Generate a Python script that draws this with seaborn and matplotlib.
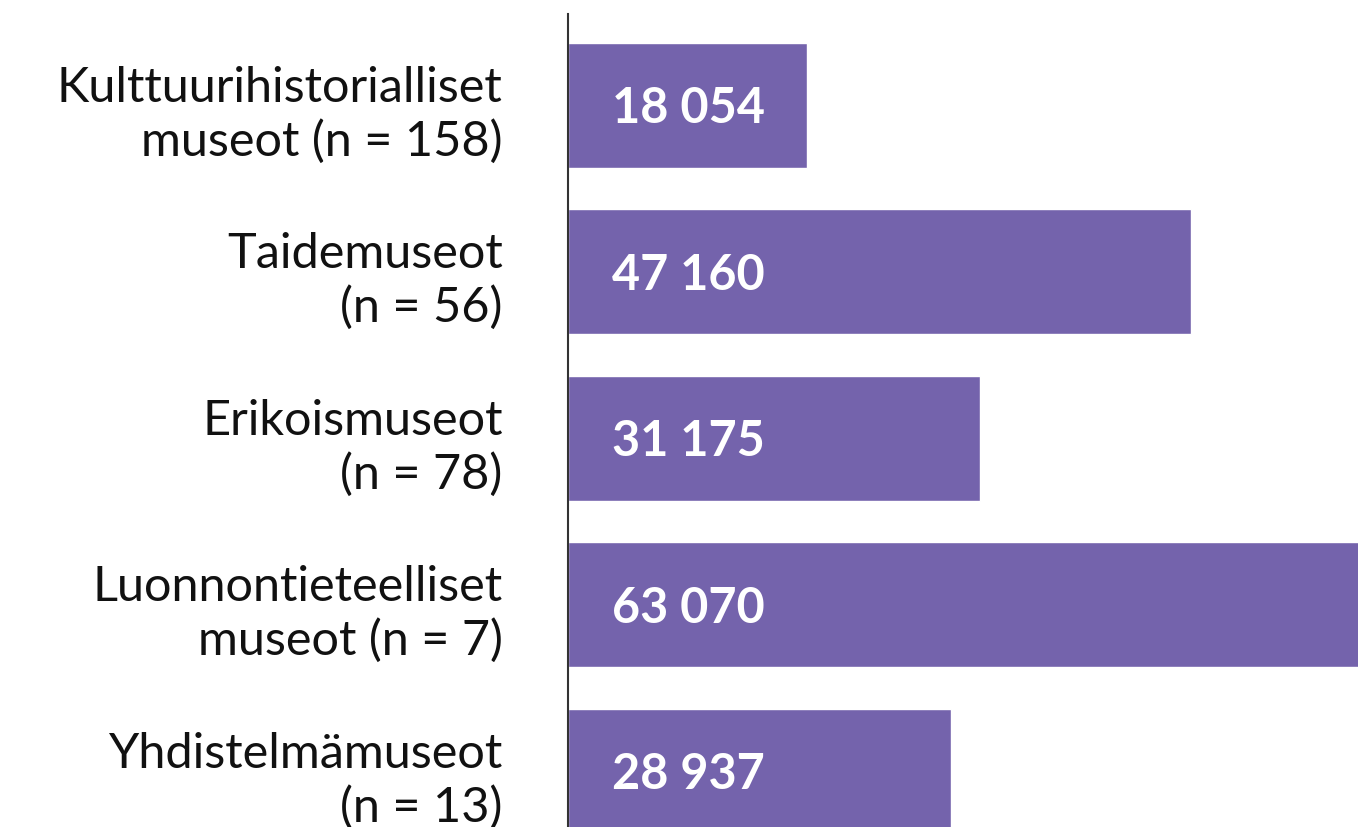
import matplotlib
matplotlib.use("Agg")
import matplotlib.pyplot as plt
import seaborn as sns
import pandas as pd

# data
categories = [
    "Kulttuurihistorialliset\nmuseot (n = 158)",
    "Taidemuseot\n(n = 56)",
    "Erikoismuseot\n(n = 78)",
    "Luonnontieteelliset\nmuseot (n = 7)",
    "Yhdistelmämuseot\n(n = 13)",
]
values = [18054, 47160, 31175, 63070, 28937]
value_labels = ["18 054", "47 160", "31 175", "63 070", "28 937"]

df = pd.DataFrame({"kategoria": categories, "arvo": values})

sns.set_theme(style="white")
plt.rcParams["font.family"] = ["Lato", "DejaVu Sans"]

fig = plt.figure(figsize=(13.58, 8.28), dpi=100)
ax = fig.add_axes([568 / 1358, 0.0, 1 - 568 / 1358, 1 - 15 / 828])

sns.barplot(data=df, x="arvo", y="kategoria", color="#7463AC", saturation=1,
            width=0.75, ax=ax)

for i, lab in enumerate(value_labels):
    ax.annotate(lab, xy=(0, i), xytext=(32, -2), textcoords="offset points",
                ha="left", va="center", color="white", fontsize=35,
                fontweight="bold")

# suurin palkki leikkautuu kuvan reunaan kuten alkuperäisessä
ax.set_xlim(0, 59760)
ax.set_ylim(4.336, -0.547)
ax.set_xlabel("")
ax.set_ylabel("")
ax.set_xticks([])
ax.tick_params(axis="y", length=0, pad=47, labelsize=35, labelcolor="#111111")
for lab in ax.get_yticklabels():
    lab.set_horizontalalignment("right")
    lab.set_linespacing(1.25)

for s in ["top", "right", "bottom"]:
    ax.spines[s].set_visible(False)
ax.spines["left"].set_color("#333333")
ax.spines["left"].set_linewidth(1.5)

fig.savefig("out.png", dpi=100)
